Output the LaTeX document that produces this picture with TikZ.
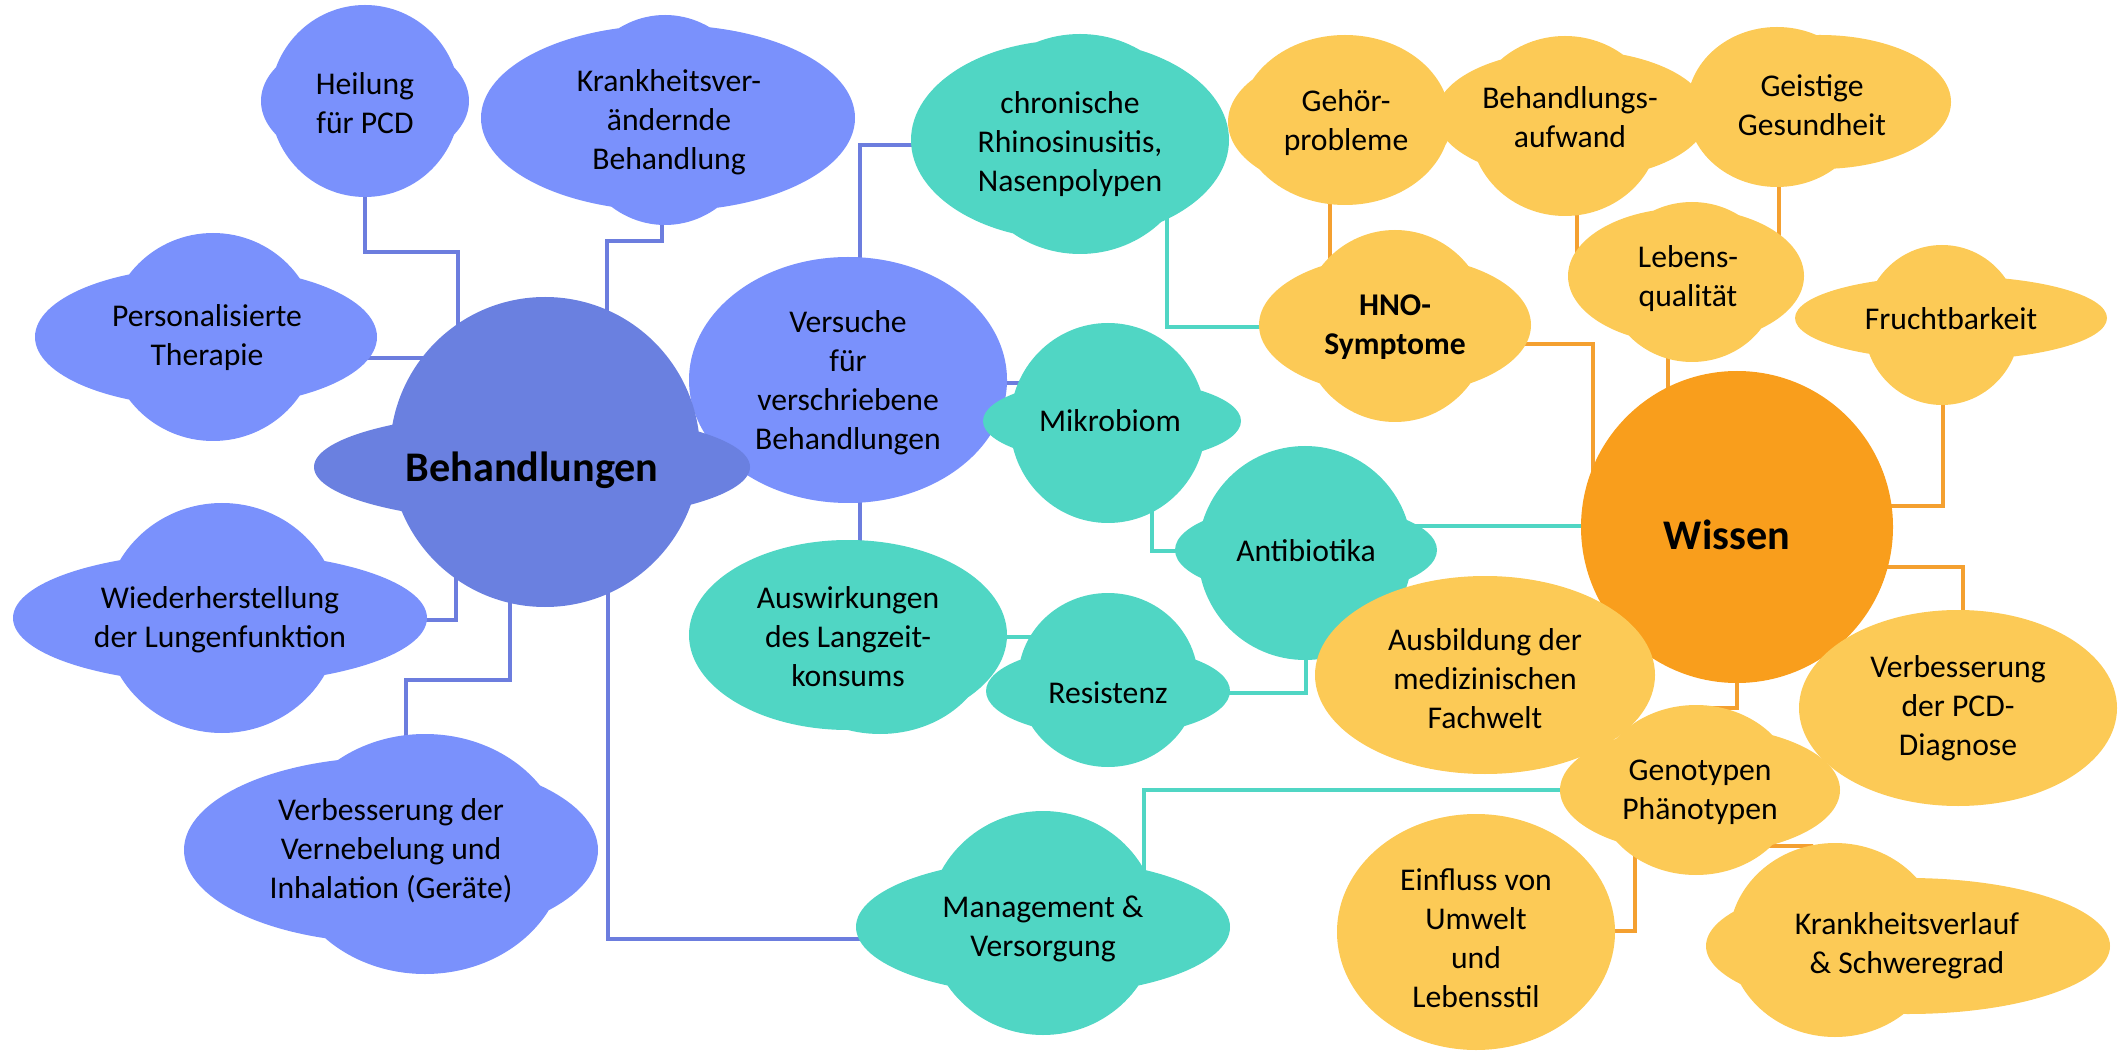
\documentclass[tikz,border=0pt]{standalone}
\usepackage{fontspec}
\setmainfont{Carlito}
\definecolor{lblue}{RGB}{122,145,252}
\definecolor{dblue}{RGB}{106,128,224}
\definecolor{mint}{RGB}{80,214,196}
\definecolor{gold}{RGB}{252,202,86}
\definecolor{amber}{RGB}{249,158,28}
\definecolor{lineblue}{RGB}{108,125,222}
\definecolor{lineorange}{RGB}{244,160,48}
\pgfdeclarelayer{lines}
\pgfdeclarelayer{blobs}
\pgfsetlayers{lines,blobs,main}
\tikzset{txt/.style={align=center, inner sep=0pt, font=\fontsize{9}{11.1}\selectfont},
         hub/.style={align=center, inner sep=0pt, font=\fontsize{12}{14}\selectfont\bfseries},
         bline/.style={draw=lineblue, line width=1pt},
         tline/.style={draw=mint, line width=1pt},
         oline/.style={draw=lineorange, line width=1pt}}

\begin{document}
\begin{tikzpicture}[x=0.01cm,y=-0.01cm]
  \useasboundingbox (0,0) rectangle (2118,1055);
  % labels
  \node[hub] (behandl) at ( 532,470) {Behandlungen};
  \node[txt] (heilung) at ( 365,103) {Heilung\\für PCD};
  \node[txt] (krank)   at ( 669,122) {Krankheitsver-\\ändernde\\Behandlung};
  \node[txt] (perso)   at ( 207,338) {Personalisierte\\Therapie};
  \node[txt] (wieder)  at ( 220,620) {Wiederherstellung\\der Lungenfunktion};
  \node[txt] (verneb)  at ( 391,851) {Verbesserung der\\Vernebelung und\\Inhalation (Geräte)};
  \node[txt] (versuche) at ( 848,383) {Versuche\\für\\verschriebene\\Behandlungen};
  \node[txt] (chron)   at (1070,144) {chronische\\Rhinosinusitis,\\Nasenpolypen};
  \node[txt] (mikro)   at (1110,421) {Mikrobiom};
  \node[txt] (anti)    at (1306,551) {Antibiotika};
  \node[txt] (resist)  at (1108,693) {Resistenz};
  \node[txt] (auswirk) at ( 848,637) {Auswirkungen\\des Langzeit-\\konsums};
  \node[txt] (manage)  at (1043,929) {Management \&\\Versorgung};
  \node[hub] (wissen)  at (1727,535) {Wissen};
  \node[txt] (gehoer)  at (1346,123) {Gehör-\\probleme};
  \node[txt] (aufwand) at (1570,117) {Behandlungs-\\aufwand};
  \node[txt] (geist)   at (1812,105) {Geistige\\Gesundheit};
  \node[txt,font=\fontsize{9}{11.1}\selectfont\bfseries] (hno) at (1395,327) {HNO-\\Symptome};
  \node[txt] (leben)   at (1688,279) {Lebens-\\qualität};
  \node[txt] (frucht)  at (1951,319) {Fruchtbarkeit};
  \node[txt] (ausbild) at (1485,679) {Ausbildung der\\medizinischen\\Fachwelt};
  \node[txt] (pcd)     at (1958,708) {Verbesserung\\der PCD-\\Diagnose};
  \node[txt] (geno)    at (1700,792) {Genotypen\\Phänotypen};
  \node[txt] (einfl)   at (1476,938) {Einfluss von\\Umwelt\\und\\Lebensstil};
  \node[txt] (verlauf) at (1907,946) {Krankheitsverlauf\\\& Schweregrad};

  % elbows
  \coordinate (k1)  at ( 458,252);
  \coordinate (k2)  at ( 607,241);
  \coordinate (k2b) at ( 662,241);
  \coordinate (k3)  at ( 450,358);
  \coordinate (k4)  at ( 456,560);
  \coordinate (k5)  at ( 510,680);
  \coordinate (k5b) at ( 406,680);
  \coordinate (k6)  at ( 608,939);
  \coordinate (k7)  at ( 860,145);
  \coordinate (k10) at (1167,327);
  \coordinate (k11) at (1152,551);
  \coordinate (k12) at (1380,526);
  \coordinate (k15) at (1144,790);
  \coordinate (k16) at (1330,250);
  \coordinate (k17) at (1577,250);
  \coordinate (k18) at (1779,250);
  \coordinate (k19) at (1668,360);
  \coordinate (k20) at (1593,344);
  \coordinate (k21) at (1943,506);
  \coordinate (k22) at (1963,567);
  \coordinate (k23) at (1737,708);
  \coordinate (k24) at (1760,846);
  \coordinate (k24b) at (1812,846);
  \coordinate (k25) at (1635,931);

  \begin{pgfonlayer}{lines}
   \draw[bline] (heilung) |- (k1) -- (k1 |- behandl);
   \draw[bline] (k2b |- krank) -- (k2b) -- (k2) -- (k2 |- behandl);
   \draw[bline] (perso |- k3) -- (k3);
   \draw[bline] (wieder) -| (k4);
   \draw[bline] (k5b |- verneb) -- (k5b) -- (k5) -- (k5 |- behandl);
   \draw[bline] (manage |- k6) -- (k6) -- (k6 |- behandl);
   \draw[bline] (k7 |- versuche) -- (k7) -- (k7 -| chron);
   \draw[bline] (k7 |- versuche) -- (k7 |- auswirk);
   \draw[bline] (versuche) -- (versuche -| mikro);
   \draw[tline] (k10 |- chron) -- (k10) -- (hno);
   \draw[tline] (k11 |- mikro) -- (k11) -- (anti);
   \draw[tline] (k12) -- (k12 -| wissen);
   \draw[tline] (resist) -| (anti);
   \draw[tline] (auswirk) -- (auswirk -| resist);
   \draw[tline] (k15 |- manage) -- (k15) -- (k15 -| geno);
   \draw[oline] (k16 |- gehoer) -- (k16 |- hno);
   \draw[oline] (k17 |- aufwand) -- (k17 |- leben);
   \draw[oline] (k18 |- geist) -- (k18);
   \draw[oline] (k19 |- leben) -- (k19 |- wissen);
   \draw[oline] (k20 -| hno) -- (k20) -- (k20 |- wissen);
   \draw[oline] (k21 |- frucht) -- (k21) -- (k21 -| wissen);
   \draw[oline] (k22 -| wissen) -- (k22) -- (k22 |- pcd);
   \draw[oline] (k23 |- wissen) -- (k23) -| (geno);
   \draw[oline] (k24) -- (k24b) -- (verlauf);
   \draw[oline] (k25 |- geno) -- (k25) -- (k25 -| einfl);
  \end{pgfonlayer}

  \begin{pgfonlayer}{blobs}
   % treatments
   \fill[lblue] ( 365,101) ellipse [x radius=104, y radius=65]  ( 365,101) ellipse [x radius=95, y radius=96];
   \fill[lblue] ( 668,118) ellipse [x radius=187, y radius=93]  ( 665,120) ellipse [x radius=95, y radius=105];
   \fill[lblue] ( 206,337) ellipse [x radius=171, y radius=70]  ( 213,337) ellipse [x radius=105, y radius=104];
   \fill[lblue] ( 220,618) ellipse [x radius=207, y radius=66]  ( 222,618) ellipse [x radius=118, y radius=115];
   \fill[lblue] ( 391,850) ellipse [x radius=207, y radius=93]  ( 425,854) ellipse [x radius=140, y radius=120];
   \fill[lblue] ( 848,380) ellipse [x radius=159, y radius=123];
   \fill[dblue] ( 545,452) circle [radius=155]                  ( 532,467) ellipse [x radius=218, y radius=55];
   % antibiotics
   \fill[mint]  (1070,140) ellipse [x radius=159, y radius=100] (1080,144) ellipse [x radius=115, y radius=110];
   \fill[mint]  (1112,421) ellipse [x radius=129, y radius=42]  (1108,423) ellipse [x radius=98, y radius=100];
   \fill[mint]  (1306,550) ellipse [x radius=131, y radius=47]  (1305,553) ellipse [x radius=107, y radius=107];
   \fill[mint]  ( 848,635) ellipse [x radius=159, y radius=95]  ( 880,642) ellipse [x radius=110, y radius=92];
   \fill[mint]  (1108,691) ellipse [x radius=122, y radius=45]  (1108,680) ellipse [x radius=90, y radius=87];
   \fill[mint]  (1043,927) ellipse [x radius=187, y radius=68]  (1043,923) ellipse [x radius=115, y radius=112];
   % knowledge
   \fill[amber] (1737,527) circle [radius=156];
   \fill[gold]  (1340,122) ellipse [x radius=112, y radius=68]  (1345,120) ellipse [x radius=105, y radius=85];
   \fill[gold]  (1572,115) ellipse [x radius=136, y radius=65]  (1565,126) ellipse [x radius=95, y radius=90];
   \fill[gold]  (1820,102) ellipse [x radius=131, y radius=67]  (1777,107) ellipse [x radius=90, y radius=80];
   \fill[gold]  (1395,325) ellipse [x radius=136, y radius=70]  (1395,326) ellipse [x radius=94, y radius=96];
   \fill[gold]  (1686,276) ellipse [x radius=118, y radius=68]  (1692,282) ellipse [x radius=85, y radius=80];
   \fill[gold]  (1951,318) ellipse [x radius=156, y radius=42]  (1942,325) ellipse [x radius=78, y radius=80];
   \fill[gold]  (1485,675) ellipse [x radius=170, y radius=99];
   \fill[gold]  (1958,708) ellipse [x radius=159, y radius=98];
   \fill[gold]  (1700,790) ellipse [x radius=140, y radius=64]  (1696,790) ellipse [x radius=100, y radius=85];
   \fill[gold]  (1476,932) ellipse [x radius=139, y radius=118];
   \fill[gold]  (1908,946) ellipse [x radius=202, y radius=68]  (1835,940) ellipse [x radius=106, y radius=97];
  \end{pgfonlayer}
\end{tikzpicture}
\end{document}
